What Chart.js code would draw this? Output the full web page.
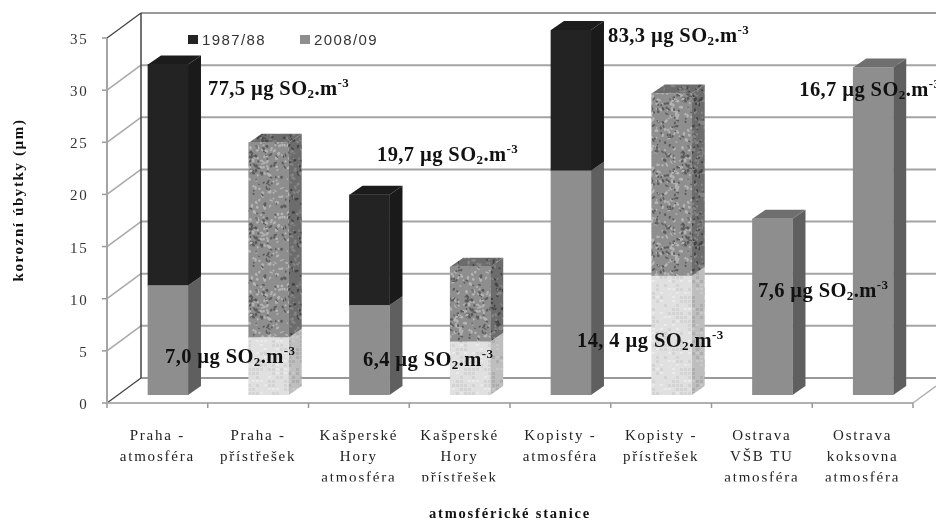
<!DOCTYPE html>
<html lang="cs"><head><meta charset="utf-8">
<style>html,body{margin:0;padding:0;background:#fff;overflow:hidden}canvas{display:block;filter:blur(0.35px)}</style>
<script src="https://cdn.jsdelivr.net/npm/chart.js@4"></script></head><body>
<canvas id="c" width="936" height="521"></canvas>
<script>
const categories = [
  ['Praha -','atmosféra'],['Praha -','přístřešek'],
  ['Kašperské','Hory','atmosféra'],['Kašperské','Hory','přístřešek'],
  ['Kopisty -','atmosféra'],['Kopisty -','přístřešek'],
  ['Ostrava','VŠB TU','atmosféra'],['Ostrava','koksovna','atmosféra']];
const series2008 = [10.5,5.5,8.6,5.1,21.5,11.4,16.9,31.4];
const series1987 = [21.2,18.7,10.6,7.2,13.5,17.5,null,null];
const yTicks = [0,5,10,15,20,25,30,35];
const noteTexts = ['77,5','7,0','19,7','6,4','83,3','14, 4','7,6','16,7'];
const noteCats = [0,1,2,3,4,5,6,7];
const noteVals = [28.76,3.07,22.44,2.78,33.84,4.6,9.4,28.67];
const noteDx = [40,-103.75,7.5,-107.25,37,-94.75,-14.5,-74];
const SERIF='"Liberation Serif",serif';

function lcg(seed){let s=seed>>>0;return ()=>{s=(Math.imul(s,1664525)+1013904223)>>>0;return s/4294967296;};}
function tile(paint){const t=document.createElement('canvas');t.width=t.height=72;paint(t.getContext('2d'));
  return document.getElementById('c').getContext('2d').createPattern(t,'repeat');}
function granite(base,light,dark,seed){return tile(g=>{
  g.fillStyle=base;g.fillRect(0,0,72,72);const r=lcg(seed);g.filter='blur(0.6px)';
  for(let i=0;i<300;i++){g.fillStyle=r()<0.55?light:dark;g.beginPath();
    g.ellipse(r()*72,r()*72,0.8+r()*1.5,0.6+r()*0.9,r()*3.14,0,6.3);g.fill();}
});}
function woven(base,a,b,seed){return tile(g=>{
  g.fillStyle=base;g.fillRect(0,0,72,72);const r=lcg(seed);g.filter='blur(0.7px)';
  for(let y=0;y<72;y+=4)for(let x=0;x<72;x+=4){const v=r();
    if(v<0.3){g.fillStyle=a;g.fillRect(x,y,3,3);}else if(v<0.5){g.fillStyle=b;g.fillRect(x,y,3,2);}}
});}
const pGranite={front:granite('#8e8e8e','#b4b4b4','#5c5c5c',7),side:granite('#6c6c6c','#868686','#444444',11),top:granite('#6c6c6c','#868686','#484848',13)};
const pWoven={front:woven('#e0e0e0','#d4d4d4','#eaeaea',5),side:woven('#bebebe','#aeaeae','#c8c8c8',9)};
const shelter=categories.map(c=>c.join(' ').includes('přístřešek'));
const face={
  s2008:i=>shelter[i]?{front:pWoven.front,side:pWoven.side,top:pWoven.side}:{front:'#8e8e8e',side:'#5f5f5f',top:'#6f6f6f'},
  s1987:i=>shelter[i]?pGranite:{front:'#232323',side:'#1a1a1a',top:'#1c1c1c'}};

const D={bx:13,by:-9,fy:8,by2:-17,fx:-10.6,wallx:23.4};
const wall3d={id:'wall3d',
  beforeDraw(ch){ch.ctx.letterSpacing='1.8px';},
  beforeDatasetsDraw(ch){
    const g=ch.ctx,X=ch.scales.x,Y=ch.scales.y;const L=X.left+D.fx,W=X.left+D.wallx;
    const step=X.getPixelForValue(1)-X.getPixelForValue(0),n=categories.length;
    g.save();g.lineCap='butt';
    const line=(x1,y1,x2,y2,c,w)=>{g.strokeStyle=c;g.lineWidth=w;g.beginPath();g.moveTo(x1,y1);g.lineTo(x2,y2);g.stroke();};
    yTicks.forEach(v=>{const p=Y.getPixelForValue(v);const f=p+D.fy,b=p+D.by2;
      const edge=v===35||v===0;
      if(v>0)line(W,b,936,b,v===35?'#777':'#a4a4a4',v===35?1.5:2);
      line(L,f,W,b,edge?'#444':'#a8a8a8',edge?1.3:1.5);
      line(L-5,f,L,f,'#999',1.5);
    });
    const y0=Y.getPixelForValue(0);
    line(W,y0+D.by2,936,y0+D.by2,'#777',1.5);
    line(W,Y.getPixelForValue(35)+D.by2,W,y0+D.by2,'#444',1.5);
    line(L,Y.getPixelForValue(35)+D.fy,L,y0+D.fy,'#a4a4a4',2);
    line(L,y0+D.fy,L+n*step,y0+D.fy,'#b0b0b0',2);
    for(let i=0;i<=n;i++){const x=L+i*step;line(x,y0+D.fy,x,y0+D.fy+5,'#999',1.5);}
    line(L+n*step,y0+D.fy,936,y0+D.fy-17,'#b0b0b0',1.5);
    // side and top faces from the library's own bar elements
    ch.data.datasets.forEach((ds,di)=>{const meta=ch.getDatasetMeta(di);
      meta.data.forEach((el,i)=>{const v=ds.data[i];if(v==null)return;
        const p=el.getProps(['x','y','base','width'],true),r=p.x+p.width/2,l=p.x-p.width/2;
        const f=(di===0?face.s2008:face.s1987)(i);
        g.fillStyle=f.side;g.beginPath();g.moveTo(r,p.y);g.lineTo(r+D.bx,p.y+D.by);g.lineTo(r+D.bx,p.base+D.by);g.lineTo(r,p.base);g.closePath();g.fill();
        const isTop=di===1||series1987[i]==null;
        if(isTop){g.fillStyle=f.top;g.beginPath();g.moveTo(l,p.y);g.lineTo(l+D.bx,p.y+D.by);g.lineTo(r+D.bx,p.y+D.by);g.lineTo(r,p.y);g.closePath();g.fill();}
      });});
    g.restore();
  },
  afterDatasetsDraw(ch){
    const g=ch.ctx,X=ch.scales.x,Y=ch.scales.y;g.save();
    g.fillStyle='#fff';g.fillRect(0,481.5,936,16);
    g.letterSpacing='0.4px';g.fillStyle='#111';g.textBaseline='alphabetic';g.textAlign='left';
    noteTexts.forEach((t,i)=>{
      let x=X.getPixelForValue(noteCats[i])+noteDx[i];const y=Y.getPixelForValue(noteVals[i]);
      const run=(s,size,dy)=>{g.font='bold '+size+'px '+SERIF;g.fillText(s,x,y+dy);x+=g.measureText(s).width;};
      run(t+' µg SO',20.5,0);run('2',13,3);run('.m',20.5,0);run('-3',13,-8);
    });
    // legend
    const labels=[['1987/88','#232323',188],['2008/09','#8e8e8e',300]];
    g.font='15px "Liberation Sans",sans-serif';g.letterSpacing='1.4px';
    labels.forEach(([s,c,x])=>{g.fillStyle=c;g.fillRect(x,35,10,9);g.fillStyle='#333';g.fillText(s,x+14,44.5);});
    // axis titles
    g.letterSpacing='1.8px';g.fillStyle='#111';g.font='bold 14.5px '+SERIF;g.textAlign='center';
    g.fillText('atmosférické stanice',510,518);
    g.translate(23,200);g.rotate(-Math.PI/2);g.letterSpacing='1.6px';g.font='bold 15px '+SERIF;g.fillText('korozní úbytky (µm)',0,0);
    g.restore();
  }
};

new Chart(document.getElementById('c'),{type:'bar',plugins:[wall3d],
  data:{labels:categories,datasets:[
    {label:'2008/09',data:series2008,backgroundColor:c=>face.s2008(c.dataIndex).front},
    {label:'1987/88',data:series1987,backgroundColor:c=>face.s1987(c.dataIndex).front}]},
  options:{responsive:false,animation:false,devicePixelRatio:1,
    layout:{padding:{top:30,right:12.4,left:0,bottom:0}},
    plugins:{legend:{display:false},tooltip:{enabled:false}},
    datasets:{bar:{barThickness:40}},
    scales:{
      x:{stacked:true,grid:{display:false,drawTicks:false},border:{display:false},
        afterFit(s){s.height=126;s.paddingLeft=0;s.paddingRight=0;},
        ticks:{maxRotation:0,autoSkip:false,padding:31,labelOffset:-10.6,color:'#222',font:{family:SERIF,size:15,lineHeight:1.4}}},
      y:{stacked:true,min:0,max:35,grid:{display:false,drawTicks:false},border:{display:false},
        afterFit(s){s.width=117.6;s.paddingTop=0;s.paddingBottom=0;},
        ticks:{stepSize:5,padding:29,labelOffset:10,color:'#333',font:{family:SERIF,size:15}}}
    }}});
</script></body></html>
